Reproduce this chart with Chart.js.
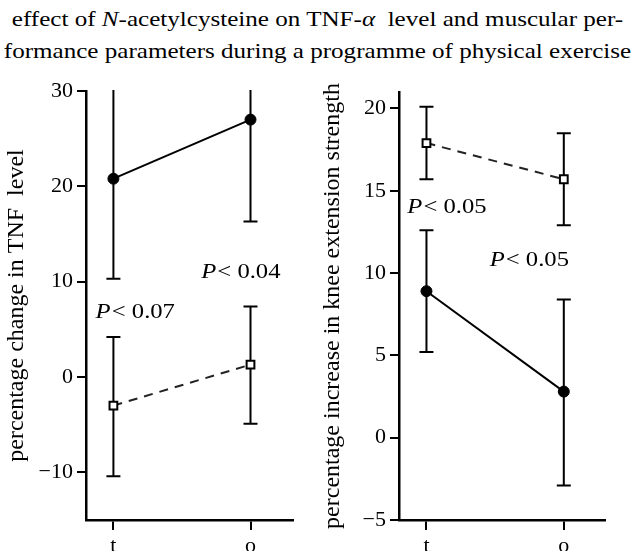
<!DOCTYPE html>
<html>
<head>
<meta charset="utf-8">
<script src="https://cdn.jsdelivr.net/npm/chart.js@4"></script>
<style>
  body { margin: 0; background: #fff; }
  #wrap { position: relative; width: 635px; height: 551px; overflow: hidden; }
  #title {
    position: absolute; left: 0; top: 3px; width: 635px;
    font-family: "Liberation Serif", serif; font-size: 22px; line-height: 32px;
    text-align: center; white-space: pre; color: #000;
    transform: scaleX(1.14); transform-origin: 50% 0;
  }
  canvas { position: absolute; top: 70px; }
</style>
</head>
<body>
<div id="wrap">
  <div id="title">effect of <i>N</i>-acetylcysteine on TNF-<i>α</i>  level and muscular per-
formance parameters during a programme of physical exercise</div>
  <canvas id="tnfChart" width="310" height="481" style="left:0"></canvas>
  <canvas id="kneeChart" width="325" height="481" style="left:310px"></canvas>
</div>
<script>
// time points along the x axis
const categories = ["t", "o"];

// left panel: percentage change in TNF level
const tnfFilled = [20.8, 27.0];
const tnfFilledLow = [10.3, 16.3];
const tnfFilledHigh = [31.3, 37.7];
const tnfOpen = [-3.0, 1.3];
const tnfOpenLow = [-10.4, -4.9];
const tnfOpenHigh = [4.2, 7.4];
const tnfTicks = [-10, 0, 10, 20, 30];

// right panel: percentage increase in knee extension strength
const kneeFilled = [8.9, 2.8];
const kneeFilledLow = [5.2, -2.9];
const kneeFilledHigh = [12.6, 8.4];
const kneeOpen = [17.9, 15.7];
const kneeOpenLow = [15.7, 12.9];
const kneeOpenHigh = [20.1, 18.5];
const kneeTicks = [-5, 0, 5, 10, 15, 20];

// significance labels, placed in data units
const tnfNotes = [
  { text: "0.07", x: -0.13, y: 6.8 },
  { text: "0.04", x: 0.64, y: 11.0 },
];
const kneeNotes = [
  { text: "0.05", x: -0.14, y: 14.0 },
  { text: "0.05", x: 0.46, y: 10.8 },
];

Chart.defaults.font.family = "'Liberation Serif', serif";
Chart.defaults.font.size = 22;
Chart.defaults.color = "#000";

const toPoints = (vals) => vals.map((v, i) => ({ x: i, y: v }));

// vertical error bars with caps, drawn from the dataset's low/high arrays
const errorBars = {
  id: "errorBars",
  beforeDatasetsDraw(chart) {
    const { ctx, chartArea, scales } = chart;
    ctx.save();
    ctx.beginPath();
    ctx.rect(chartArea.left, chartArea.top - 1, chartArea.width, chartArea.height + 1);
    ctx.clip();
    ctx.strokeStyle = "#000";
    ctx.lineWidth = 2;
    chart.data.datasets.forEach((ds) => {
      ds.data.forEach((p, i) => {
        const x = scales.x.getPixelForValue(p.x);
        const yLo = scales.y.getPixelForValue(ds.errLow[i]);
        const yHi = scales.y.getPixelForValue(ds.errHigh[i]);
        ctx.beginPath();
        ctx.moveTo(x, yLo);
        ctx.lineTo(x, yHi);
        ctx.moveTo(x - 7, yLo);
        ctx.lineTo(x + 7, yLo);
        ctx.moveTo(x - 7, yHi);
        ctx.lineTo(x + 7, yHi);
        ctx.stroke();
      });
    });
    ctx.restore();
  },
};

// "P < value" text with an italic P, a little wider like the scan
const notes = {
  id: "notes",
  afterDraw(chart, args, opts) {
    const { ctx, scales } = chart;
    opts.items.forEach((n) => {
      ctx.save();
      ctx.fillStyle = "#000";
      ctx.textBaseline = "middle";
      ctx.translate(scales.x.getPixelForValue(n.x), scales.y.getPixelForValue(n.y));
      ctx.scale(1.12, 1);
      ctx.font = "italic 22px 'Liberation Serif'";
      ctx.fillText("P", 0, 0);
      const w = ctx.measureText("P").width;
      ctx.font = "22px 'Liberation Serif'";
      ctx.fillText("< " + n.text, w + 1, 0);
      ctx.restore();
    });
  },
};

function makePanel(id, cfg) {
  return new Chart(document.getElementById(id), {
    type: "line",
    data: {
      datasets: [
        {
          label: "open",
          data: toPoints(cfg.open),
          errLow: cfg.openLow,
          errHigh: cfg.openHigh,
          borderColor: "#222",
          borderWidth: 2,
          borderDash: [9, 7],
          pointStyle: "rect",
          pointRadius: 5.5,
          pointBorderWidth: 2,
          pointBorderColor: "#000",
          pointBackgroundColor: "#fff",
        },
        {
          label: "filled",
          data: toPoints(cfg.filled),
          errLow: cfg.filledLow,
          errHigh: cfg.filledHigh,
          borderColor: "#000",
          borderWidth: 2,
          pointStyle: "circle",
          pointRadius: 5.5,
          pointBorderWidth: 1,
          pointBorderColor: "#000",
          pointBackgroundColor: "#000",
        },
      ],
    },
    options: {
      responsive: false,
      animation: false,
      layout: { padding: { top: cfg.padTop, right: cfg.padRight, left: 0, bottom: 0 } },
      plugins: {
        legend: { display: false },
        tooltip: { enabled: false },
        notes: { items: cfg.notes },
      },
      scales: {
        x: {
          type: "linear",
          min: -0.2,
          max: cfg.xMax,
          afterBuildTicks: (s) => { s.ticks = categories.map((c, i) => ({ value: i })); },
          afterFit: (s) => { s.height = 31; },
          ticks: { callback: (v) => categories[v], padding: 3, maxRotation: 0 },
          grid: { drawOnChartArea: false, drawTicks: true, tickLength: 10, color: "#000", lineWidth: 2 },
          border: { display: true, color: "#000", width: 2.5 },
        },
        y: {
          min: cfg.yMin,
          max: cfg.yMax,
          afterBuildTicks: (s) => { s.ticks = cfg.ticks.map((v) => ({ value: v })); },
          afterFit: (s) => { s.width = cfg.axisWidth; },
          ticks: {
            padding: 4,
            callback: (v) => (v < 0 ? "\u2212" + Math.abs(v) : String(v)),
          },
          grid: { drawOnChartArea: false, drawTicks: true, tickLength: 9, color: "#000", lineWidth: 2 },
          border: { display: true, color: "#000", width: 2.5 },
          title: {
            display: true,
            text: cfg.yTitle,
            font: { size: 24 },
            padding: { top: cfg.titlePad, bottom: 0 },
          },
        },
      },
    },
    plugins: [errorBars, notes],
  });
}

makePanel("tnfChart", {
  filled: tnfFilled, filledLow: tnfFilledLow, filledHigh: tnfFilledHigh,
  open: tnfOpen, openLow: tnfOpenLow, openHigh: tnfOpenHigh,
  ticks: tnfTicks, yMin: -15, yMax: 30, xMax: 1.31,
  yTitle: "percentage change in TNF  level",
  notes: tnfNotes, axisWidth: 86, padTop: 21, padRight: 17, titlePad: 2,
});

makePanel("kneeChart", {
  filled: kneeFilled, filledLow: kneeFilledLow, filledHigh: kneeFilledHigh,
  open: kneeOpen, openLow: kneeOpenLow, openHigh: kneeOpenHigh,
  ticks: kneeTicks, yMin: -5, yMax: 21, xMax: 1.3,
  yTitle: "percentage increase in knee extension strength",
  notes: kneeNotes, axisWidth: 89, padTop: 22, padRight: 30, titlePad: 8,
});
</script>
</body>
</html>
